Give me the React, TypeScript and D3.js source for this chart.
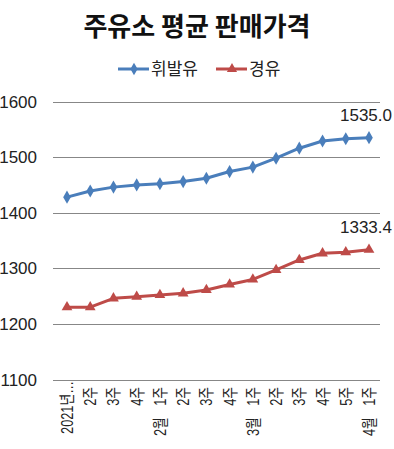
import { useRef, useEffect } from "react";
import * as d3 from "d3";

const categories = [
  "2021년…", "2주", "3주", "4주", "2월 1주", "2주", "3주", "4주",
  "3월 1주", "2주", "3주", "4주", "5주", "4월 1주",
];
const gasoline = [1428, 1439, 1446, 1450, 1452, 1456, 1462, 1474, 1482, 1498, 1516, 1529, 1533, 1535.0];
const diesel = [1230, 1230, 1246, 1249, 1252, 1255, 1261, 1271, 1280, 1297, 1315, 1327, 1329, 1333.4];
const yTicks = [1100, 1200, 1300, 1400, 1500, 1600];

const BLUE = "#4A7EBB";
const RED = "#BE4B48";

function App() {
  const ref = useRef<SVGSVGElement>(null);

  useEffect(() => {
    const svg = d3.select(ref.current);
    svg.selectAll("*").remove();

    const width = 394;
    const font = "'Liberation Sans', Arial, 'Noto Sans CJK KR', sans-serif";

    const x = d3.scalePoint<number>().domain(d3.range(categories.length)).range([67, 369]);
    const y = d3.scaleLinear().domain([1100, 1600]).range([379.5, 101.5]);

    // title
    svg.append("text")
      .attr("x", width / 2)
      .attr("y", 36)
      .attr("text-anchor", "middle")
      .attr("font-family", "'Noto Sans CJK KR', sans-serif")
      .attr("font-weight", "bold")
      .attr("font-size", 26)
      .attr("fill", "#111")
      .text("주유소 평균 판매가격");

    // legend
    const legend = svg.append("g").attr("font-family", font).attr("font-size", 17);
    const items = [
      { name: "휘발유", color: BLUE, sym: d3.symbolDiamond, x0: 118 },
      { name: "경유", color: RED, sym: d3.symbolTriangle, x0: 216 },
    ];
    items.forEach((it) => {
      legend.append("line")
        .attr("x1", it.x0).attr("x2", it.x0 + 31)
        .attr("y1", 69).attr("y2", 69)
        .attr("stroke", it.color).attr("stroke-width", 3);
      legend.append("path")
        .attr("d", d3.symbol().type(it.sym).size(45)())
        .attr("transform", `translate(${it.x0 + 16},69)`)
        .attr("fill", it.color);
      legend.append("text")
        .attr("x", it.x0 + 33).attr("y", 75)
        .attr("fill", "#222")
        .text(it.name);
    });

    // grid + y labels
    const grid = svg.append("g");
    yTicks.forEach((t) => {
      grid.append("line")
        .attr("x1", 53).attr("x2", 380)
        .attr("y1", Math.round(y(t)) + 0.5).attr("y2", Math.round(y(t)) + 0.5)
        .attr("stroke", "#878787").attr("stroke-width", 1);
      grid.append("text")
        .attr("x", 37).attr("y", y(t) + 6)
        .attr("text-anchor", "end")
        .attr("font-family", font).attr("font-size", 17)
        .attr("fill", "#222")
        .text(t);
    });

    // x labels (rotated, condensed); month part sits further down
    const xl = svg.append("g")
      .attr("font-family", font)
      .attr("font-size", 16)
      .attr("fill", "#222");
    categories.forEach((c, i) => {
      const parts = c.split(" ");
      const week = parts.length > 1 ? parts[1] : parts[0];
      xl.append("text")
        .attr("transform", `translate(${x(i)! + 6},${i === 0 ? 381 : 387}) rotate(-90) scale(0.8,1)`)
        .attr("text-anchor", "end")
        .text(week);
      if (parts.length > 1) {
        xl.append("text")
          .attr("transform", `translate(${x(i)! + 6},436) rotate(-90) scale(0.8,1)`)
          .attr("text-anchor", "start")
          .text(parts[0]);
      }
    });

    const line = d3.line<number>().x((d, i) => x(i)!).y((d) => y(d));

    const series = [
      { data: gasoline, color: BLUE, sym: d3.symbolDiamond, size: 50 },
      { data: diesel, color: RED, sym: d3.symbolTriangle, size: 50 },
    ];
    series.forEach((s) => {
      svg.append("path")
        .attr("d", line(s.data))
        .attr("fill", "none")
        .attr("stroke", s.color)
        .attr("stroke-width", 3)
        .attr("stroke-linejoin", "round");
      svg.append("g")
        .selectAll("path")
        .data(s.data)
        .join("path")
        .attr("d", d3.symbol().type(s.sym).size(s.size)())
        .attr("transform", (d, i) => `translate(${x(i)},${y(d)})`)
        .attr("fill", s.color);
    });

    // end value labels
    const last = categories.length - 1;
    [gasoline, diesel].forEach((s) => {
      svg.append("text")
        .attr("x", x(last)! + 23)
        .attr("y", y(s[last]) - 17)
        .attr("text-anchor", "end")
        .attr("font-family", font)
        .attr("font-size", 17)
        .attr("fill", "#222")
        .text(s[last].toFixed(1));
    });
  }, []);

  return (
    <svg
      ref={ref}
      width={394}
      height={449}
      style={{ position: "absolute", left: 0, top: 0, background: "#fff" }}
    />
  );
}

export default App;
